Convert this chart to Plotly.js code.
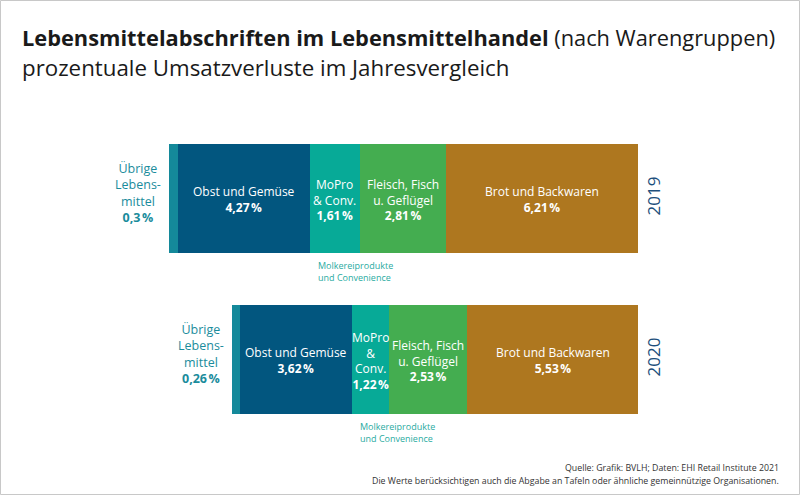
<!DOCTYPE html>
<html>
<head>
<meta charset="utf-8">
<script src="https://cdn.plot.ly/plotly-3.0.1.min.js"></script>
<style>
html,body{margin:0;padding:0;background:#fff;}
#chart{width:800px;height:496px;}
</style>
</head>
<body>
<div id="chart"></div>
<script>
// ---- data ----
const years = ['2019', '2020'];
const categories = ['Übrige Lebensmittel', 'Obst und Gemüse', 'MoPro & Conv.', 'Fleisch, Fisch u. Geflügel', 'Brot und Backwaren'];
const values2019 = [0.3, 4.27, 1.61, 2.81, 6.21];
const values2020 = [0.26, 3.62, 1.22, 2.53, 5.53];
const labels2019 = ['Übrige<br>Lebens-<br>mittel', 'Obst und Gemüse', 'MoPro<br>& Conv.', 'Fleisch, Fisch<br>u. Geflügel', 'Brot und Backwaren'];
const labels2020 = ['Übrige<br>Lebens-<br>mittel', 'Obst und Gemüse', 'MoPro<br>&<br>Conv.', 'Fleisch, Fisch<br>u. Geflügel', 'Brot und Backwaren'];
const moproNote = 'Molkereiprodukte<br>und Convenience';
const titleBold = 'Lebensmittelabschriften im Lebensmittelhandel';
const titleRest = ' (nach Warengruppen)';
const subtitle = 'prozentuale Umsatzverluste im Jahresvergleich';
const source1 = 'Quelle: Grafik: BVLH; Daten: EHI Retail Institute 2021';
const source2 = 'Die Werte berücksichtigen auch die Abgabe an Tafeln oder ähnliche gemeinnützige Organisationen.';

// ---- styles ----
const colors = ['#14899a', '#02567f', '#07aa97', '#44ad50', '#ae771f'];
const FONT = 'Open Sans, Noto Sans, sans-serif';
const W = 800, H = 496;
const M = {l: 169, r: 162, t: 118, b: 56};
const PW = W - M.l - M.r, PH = H - M.t - M.b;
const px2x = p => (p - M.l) / PW;
const py2y = p => (H - M.b - p) / PH;

const allValues = [values2019, values2020];
const allLabels = [labels2019, labels2020];
const total = v => v.reduce((a, b) => a + b, 0);
const maxTotal = Math.max(total(values2019), total(values2020));
const fmt = v => String(v).replace('.', ',') + '\u202F%';

// traces: stacked from the right (reversed x axis), so order reversed
const traces = [];
for (let i = categories.length - 1; i >= 0; i--) {
  traces.push({
    type: 'bar',
    orientation: 'h',
    name: categories[i],
    y: years,
    x: [values2019[i], values2020[i]],
    marker: {color: colors[i], line: {width: 0}},
    hoverinfo: 'name+x',
    showlegend: false
  });
}

const annotations = [];
allValues.forEach((vals, yi) => {
  const yr = yi; // category index
  for (let i = 0; i < vals.length; i++) {
    let right = 0;
    for (let j = i + 1; j < vals.length; j++) right += vals[j];
    const left = right + vals[i];
    const center = (left + right) / 2;
    const txt = allLabels[yi][i] + '<br><b>' + fmt(vals[i]) + '</b>';
    if (i === 0) {
      annotations.push({
        x: left, y: yr, xref: 'x', yref: 'y', text: txt, showarrow: false,
        xanchor: 'right', yanchor: 'middle', align: 'center', xshift: -6, yshift: 6,
        font: {family: FONT, size: 12.5, color: '#1a8c9c'}
      });
    } else {
      annotations.push({
        x: center, y: yr, xref: 'x', yref: 'y', text: txt, showarrow: false,
        xanchor: 'center', yanchor: 'middle', align: 'center', yshift: -1,
        font: {family: FONT, size: 12, color: '#ffffff'}
      });
    }
    if (i === 2) {
      annotations.push({
        x: left, y: yr, xref: 'x', yref: 'y', text: moproNote, showarrow: false,
        xanchor: 'left', yanchor: 'middle', align: 'left', xshift: 6, yshift: -73,
        font: {family: FONT, size: 9, color: '#2aab9f'}
      });
    }
  }
});

annotations.push({
  x: px2x(20), y: py2y(67), xref: 'paper', yref: 'paper', text: subtitle, showarrow: false,
  xanchor: 'left', yanchor: 'middle', align: 'left',
  font: {family: FONT, size: 22.3, color: '#1a1a1a'}
});
annotations.push({
  x: px2x(781), y: py2y(468), xref: 'paper', yref: 'paper', text: source1, showarrow: false,
  xanchor: 'right', yanchor: 'middle', align: 'right',
  font: {family: FONT, size: 8.8, color: '#333333'}
});
annotations.push({
  x: px2x(781), y: py2y(481), xref: 'paper', yref: 'paper', text: source2, showarrow: false,
  xanchor: 'right', yanchor: 'middle', align: 'right',
  font: {family: FONT, size: 8.8, color: '#333333'}
});

const layout = {
  width: W, height: H,
  margin: M,
  paper_bgcolor: '#ffffff', plot_bgcolor: '#ffffff',
  barmode: 'stack',
  bargap: 0.317,
  title: {
    text: '<b>' + titleBold + '</b>' + titleRest,
    x: 22 / W, xref: 'container', xanchor: 'left',
    y: 1 - 38 / H, yref: 'container', yanchor: 'middle',
    font: {family: FONT, size: 21.8, color: '#1a1a1a'}
  },
  xaxis: {
    range: [maxTotal, 0], showticklabels: false, showgrid: false, zeroline: false,
    showline: false, ticks: '', fixedrange: true
  },
  yaxis: {
    type: 'category', range: [1.5, -0.5], side: 'right',
    tickangle: -90, ticks: '', showline: false, showgrid: false, zeroline: false,
    ticklabelstandoff: 4,
    tickfont: {family: FONT, size: 17, color: '#1d4f7c'}, fixedrange: true
  },
  annotations: annotations,
  shapes: [{
    type: 'rect', xref: 'paper', yref: 'paper',
    x0: px2x(0.5), x1: px2x(799.5), y0: py2y(494.5), y1: py2y(0.5),
    line: {color: '#c8c8c8', width: 1}, fillcolor: 'rgba(0,0,0,0)', layer: 'above'
  }]
};

Plotly.newPlot('chart', traces, layout, {displayModeBar: false, staticPlot: true});
</script>
</body>
</html>
